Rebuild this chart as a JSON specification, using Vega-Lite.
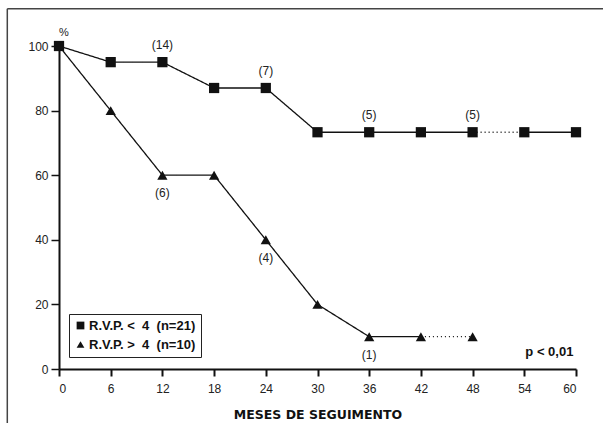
{
  "$schema": "https://vega.github.io/schema/vega-lite/v6.json",
  "width": 517,
  "height": 323,
  "autosize": "none",
  "padding": {"left": 59, "top": 46, "right": 27, "bottom": 54},
  "background": "white",
  "config": {
    "view": {"stroke": null},
    "font": "Liberation Sans",
    "axisX": {"domainWidth": 2, "domainColor": "#111", "tickColor": "#111", "tickWidth": 2, "tickSize": 7, "labelPadding": 7, "labelFontSize": 12, "labelColor": "#222", "labelFont": "Liberation Sans", "grid": false, "titleFontWeight": "bold", "titleFontSize": 12.5, "titleColor": "#111", "titlePadding": 14, "titleFont": "DejaVu Sans"},
    "axisY": {"domainWidth": 2, "domainColor": "#111", "tickColor": "#111", "tickWidth": 1.5, "tickSize": 8, "labelPadding": 3, "labelFontSize": 12, "labelColor": "#222", "labelFont": "Liberation Sans", "grid": false}
  },
  "datasets": {
    "linhas": [
      {"seg": "a1", "tipo": "solid", "mes": 0, "pct": 100},
      {"seg": "a1", "tipo": "solid", "mes": 6, "pct": 95},
      {"seg": "a1", "tipo": "solid", "mes": 12, "pct": 95},
      {"seg": "a1", "tipo": "solid", "mes": 18, "pct": 87},
      {"seg": "a1", "tipo": "solid", "mes": 24, "pct": 87},
      {"seg": "a1", "tipo": "solid", "mes": 30, "pct": 73.3},
      {"seg": "a1", "tipo": "solid", "mes": 36, "pct": 73.3},
      {"seg": "a1", "tipo": "solid", "mes": 42, "pct": 73.3},
      {"seg": "a1", "tipo": "solid", "mes": 48, "pct": 73.3},
      {"seg": "a2", "tipo": "dotted", "mes": 48, "pct": 73.3},
      {"seg": "a2", "tipo": "dotted", "mes": 54, "pct": 73.3},
      {"seg": "a3", "tipo": "solid", "mes": 54, "pct": 73.3},
      {"seg": "a3", "tipo": "solid", "mes": 60, "pct": 73.3},
      {"seg": "b1", "tipo": "solid", "mes": 0, "pct": 100},
      {"seg": "b1", "tipo": "solid", "mes": 6, "pct": 80},
      {"seg": "b1", "tipo": "solid", "mes": 12, "pct": 60},
      {"seg": "b1", "tipo": "solid", "mes": 18, "pct": 60},
      {"seg": "b1", "tipo": "solid", "mes": 24, "pct": 40},
      {"seg": "b1", "tipo": "solid", "mes": 30, "pct": 20},
      {"seg": "b1", "tipo": "solid", "mes": 36, "pct": 10},
      {"seg": "b1", "tipo": "solid", "mes": 42, "pct": 10},
      {"seg": "b2", "tipo": "dotted", "mes": 42, "pct": 10},
      {"seg": "b2", "tipo": "dotted", "mes": 48, "pct": 10}
    ],
    "pontos": [
      {"grupo": "R.V.P. < 4 (n=21)", "mes": 0, "pct": 100},
      {"grupo": "R.V.P. < 4 (n=21)", "mes": 6, "pct": 95},
      {"grupo": "R.V.P. < 4 (n=21)", "mes": 12, "pct": 95},
      {"grupo": "R.V.P. < 4 (n=21)", "mes": 18, "pct": 87},
      {"grupo": "R.V.P. < 4 (n=21)", "mes": 24, "pct": 87},
      {"grupo": "R.V.P. < 4 (n=21)", "mes": 30, "pct": 73.3},
      {"grupo": "R.V.P. < 4 (n=21)", "mes": 36, "pct": 73.3},
      {"grupo": "R.V.P. < 4 (n=21)", "mes": 42, "pct": 73.3},
      {"grupo": "R.V.P. < 4 (n=21)", "mes": 48, "pct": 73.3},
      {"grupo": "R.V.P. < 4 (n=21)", "mes": 54, "pct": 73.3},
      {"grupo": "R.V.P. < 4 (n=21)", "mes": 60, "pct": 73.3},
      {"grupo": "R.V.P. > 4 (n=10)", "mes": 6, "pct": 80},
      {"grupo": "R.V.P. > 4 (n=10)", "mes": 12, "pct": 60},
      {"grupo": "R.V.P. > 4 (n=10)", "mes": 18, "pct": 60},
      {"grupo": "R.V.P. > 4 (n=10)", "mes": 24, "pct": 40},
      {"grupo": "R.V.P. > 4 (n=10)", "mes": 30, "pct": 20},
      {"grupo": "R.V.P. > 4 (n=10)", "mes": 36, "pct": 10},
      {"grupo": "R.V.P. > 4 (n=10)", "mes": 42, "pct": 10},
      {"grupo": "R.V.P. > 4 (n=10)", "mes": 48, "pct": 10}
    ],
    "rotulos": [
      {"mes": 12, "pct": 95, "texto": "(14)", "lado": "acima"},
      {"mes": 24, "pct": 87, "texto": "(7)", "lado": "acima"},
      {"mes": 36, "pct": 73.3, "texto": "(5)", "lado": "acima"},
      {"mes": 48, "pct": 73.3, "texto": "(5)", "lado": "acima"},
      {"mes": 12, "pct": 60, "texto": "(6)", "lado": "abaixo"},
      {"mes": 24, "pct": 40, "texto": "(4)", "lado": "abaixo"},
      {"mes": 36, "pct": 10, "texto": "(1)", "lado": "abaixo"}
    ],
    "moldura": [
      {"mes": -6, "mes2": 70, "pct": 111.5, "pct2": 111.5},
      {"mes": -6, "mes2": -6, "pct": 111.5, "pct2": -25}
    ],
    "notas": [
      {"mes": 59.7, "pct": 5.4, "texto": "p < 0,01", "tipo": "p"},
      {"mes": 0, "pct": 104, "texto": "%", "tipo": "pct"}
    ]
  },
  "encoding": {
    "x": {"field": "mes", "type": "quantitative", "scale": {"domain": [0, 60], "nice": false, "zero": false}, "axis": {"values": [0, 6, 12, 18, 24, 30, 36, 42, 48, 54, 60], "title": "MESES DE SEGUIMENTO"}},
    "y": {"field": "pct", "type": "quantitative", "scale": {"domain": [0, 100], "nice": false}, "axis": {"values": [0, 20, 40, 60, 80, 100], "title": null}}
  },
  "layer": [
    {
      "data": {"name": "moldura"},
      "mark": {"type": "rule", "clip": false, "color": "#444", "strokeWidth": 1.5},
      "encoding": {"x2": {"field": "mes2"}, "y2": {"field": "pct2"}}
    },
    {
      "data": {"name": "linhas"},
      "mark": {"type": "line", "color": "#111", "strokeWidth": 1.3, "clip": false},
      "encoding": {
        "detail": {"field": "seg"},
        "strokeDash": {"field": "tipo", "type": "nominal", "scale": {"domain": ["solid", "dotted"], "range": [[1, 0], [1, 3]]}, "legend": null}
      }
    },
    {
      "data": {"name": "pontos"},
      "mark": {"type": "point", "filled": true, "color": "#111", "opacity": 1, "size": 105, "clip": false},
      "encoding": {
        "shape": {"field": "grupo", "type": "nominal", "scale": {"domain": ["R.V.P. < 4 (n=21)", "R.V.P. > 4 (n=10)"], "range": ["square", "triangle-up"]},
          "legend": {"orient": "none", "legendX": 10, "legendY": 268, "title": null, "strokeColor": "#222", "padding": 5, "labelFont": "Liberation Sans", "labelFontWeight": "bold", "labelFontSize": 13, "labelColor": "#111", "symbolSize": 60, "symbolFillColor": "#111", "symbolStrokeColor": "#111", "symbolOpacity": 1, "rowPadding": 5, "labelOffset": 2,
            "labelExpr": "replace(datum.label, ' 4 ', '\u00a0\u00a04\u00a0\u00a0') + '\u00a0'"}}
      }
    },
    {
      "data": {"name": "rotulos"},
      "transform": [{"filter": "datum.lado === 'acima'"}],
      "mark": {"type": "text", "dy": -17, "fontSize": 12, "color": "#222", "font": "Liberation Sans"},
      "encoding": {"text": {"field": "texto"}}
    },
    {
      "data": {"name": "rotulos"},
      "transform": [{"filter": "datum.lado === 'abaixo'"}],
      "mark": {"type": "text", "dy": 18, "fontSize": 12, "color": "#222", "font": "Liberation Sans"},
      "encoding": {"text": {"field": "texto"}}
    },
    {
      "data": {"name": "notas"},
      "transform": [{"filter": "datum.tipo === 'p'"}],
      "mark": {"type": "text", "align": "right", "fontSize": 13, "fontWeight": "bold", "color": "#111", "font": "Liberation Sans", "clip": false},
      "encoding": {"text": {"field": "texto"}}
    },
    {
      "data": {"name": "notas"},
      "transform": [{"filter": "datum.tipo === 'pct'"}],
      "mark": {"type": "text", "align": "left", "fontSize": 11, "color": "#222", "font": "Liberation Sans", "clip": false},
      "encoding": {"text": {"field": "texto"}}
    }
  ]
}
